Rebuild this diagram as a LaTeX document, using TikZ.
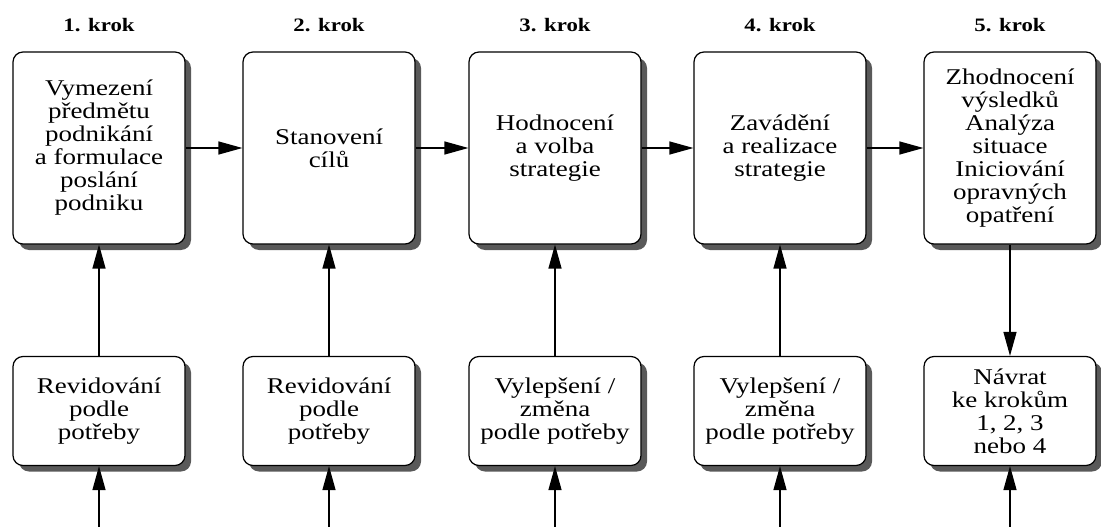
\documentclass[tikz,border=0pt]{standalone}
\usepackage{fontspec}
\setmainfont{Liberation Serif}[FakeStretch=1.2]
\usetikzlibrary{arrows.meta,shadows}

\begin{document}
\begin{tikzpicture}[x=1pt,y=-1pt,>={Triangle[length=24pt,width=13pt]},
  stepbox/.style={draw,line width=1.2pt,rounded corners=10pt,fill=white,align=center,
    minimum width=172pt,minimum height=192pt,inner sep=2pt,
    font=\fontsize{22.5}{23}\selectfont,
    drop shadow={shadow xshift=6pt,shadow yshift=-6pt,fill=black!65,opacity=1}},
  subbox/.style={stepbox,minimum height=109pt},
  ttl/.style={font=\fontsize{19}{22}\selectfont\bfseries},
  arr/.style={->,line width=1.3pt}]
  \useasboundingbox (0,0) rectangle (1101,527);
  \foreach \n/\x/\t/\s in {
    1/99/{Vymezení\\předmětu\\podnikání\\a formulace\\poslání\\podniku}/{Revidování\\podle\\potřeby},
    2/329/{Stanovení\\cílů}/{Revidování\\podle\\potřeby},
    3/555/{Hodnocení\\a volba\\strategie}/{Vylepšení /\\změna\\podle potřeby},
    4/780/{Zavádění\\a realizace\\strategie}/{Vylepšení /\\změna\\podle potřeby},
    5/1010/{Zhodnocení\\výsledků\\Analýza\\situace\\Iniciování\\opravných\\opatření}/{Návrat\\ke krokům\\1, 2, 3\\nebo 4}}{
    \node[ttl] (t\n) at (\x,25) {\n. krok};
    \node[stepbox] (a\n) at (\x,148) {\t};
    \node[subbox] (b\n) at (\x,411) {\s};
    \coordinate (e\n) at (\x,527);
  }
  \foreach \i/\j in {1/2,2/3,3/4,4/5}
    \draw[arr] (a\i) -- (a\j);
  \foreach \i in {1,2,3,4}
    \draw[arr] (b\i) -- (a\i);
  \draw[arr] (a5) -- (b5);
  \foreach \i in {1,...,5}
    \draw[arr] (e\i) -- (b\i);
\end{tikzpicture}
\end{document}
